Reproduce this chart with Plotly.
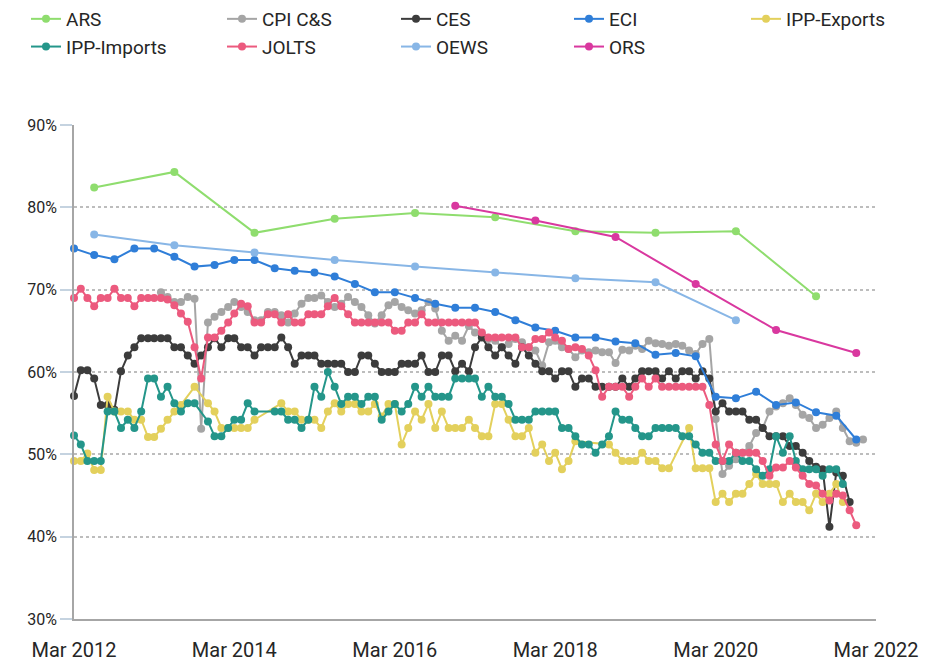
import plotly.graph_objects as go
import pandas as pd

# ---------------- data ----------------
months = [d.strftime("%Y-%m-%d") for d in pd.date_range("2012-03-01", periods=119, freq="MS")]

ars_dates = ["2012-06-01", "2013-06-01", "2014-06-01", "2015-06-01", "2016-06-01",
             "2017-06-01", "2018-06-01", "2019-06-01", "2020-06-01", "2021-06-01"]
ars = [82.4, 84.3, 76.9, 78.6, 79.3, 78.8, 77.1, 76.9, 77.1, 69.2]

oews_dates = ars_dates[:9]
oews = [76.7, 75.4, 74.5, 73.6, 72.8, 72.1, 71.4, 70.9, 66.3]

ors_dates = ["2016-12-01", "2017-12-01", "2018-12-01", "2019-12-01", "2020-12-01", "2021-12-01"]
ors = [80.2, 78.4, 76.4, 70.7, 65.1, 62.3]

eci_dates = months[0:118:3]
eci = [75.0, 74.2, 73.7, 75.0, 75.0, 74.0, 72.8, 73.0, 73.6, 73.6,
       72.6, 72.3, 72.1, 71.6, 70.7, 69.7, 69.7, 69.0, 68.3, 67.8,
       67.8, 67.3, 66.3, 65.4, 65.0, 64.2, 64.2, 63.7, 63.5, 62.1,
       62.3, 61.9, 57.0, 56.8, 57.6, 56.0, 56.3, 55.1, 54.7, 51.8]

N = None
ces = [57.1, 60.2, 60.2, 59.2, 56.0, 56.0, 55.4, 60.1, 62.0, 63.0,
       64.1, 64.1, 64.1, 64.1, 64.1, 63.0, 63.0, 62.0, 61.0, 62.0,
       63.0, 64.1, 63.0, 64.1, 64.1, 63.0, 63.0, 62.0, 63.0, 63.0,
       63.0, 64.2, 63.0, 61.0, 62.0, 62.0, 62.0, 61.0, 61.0, 61.0,
       61.0, 60.0, 60.0, 62.0, 62.0, 61.0, 60.0, 60.0, 60.0, 61.0,
       61.0, 61.0, 62.0, 60.0, 60.0, 62.0, 62.0, 60.1, 61.0, 60.1,
       63.0, 64.2, 63.0, 62.0, 63.0, 62.0, 61.0, 63.0, 62.0, 61.0,
       60.1, 60.1, 59.2, 60.1, 60.1, 58.2, 59.2, 59.2, 58.2, 58.2,
       58.2, 58.2, 59.2, 58.2, 59.2, 60.1, 60.1, 60.1, 59.2, 60.1,
       59.2, 60.1, 60.1, 59.2, 60.1, 59.2, 55.2, 56.2, 55.2, 55.2,
       55.2, 54.2, 54.2, 53.2, 52.2, 52.2, 52.2, 51.0, 51.0, 50.2,
       49.2, 48.5, 48.2, 41.2, 47.8, 47.4, 44.2]

cpi = [N, N, N, N, N, N, N, N, N, N,
       N, N, N, 69.7, 69.1, 68.5, 68.5, 69.1, 68.9, 53.1,
       66.0, 66.7, 67.3, 67.9, 68.5, 67.9, 67.3, 66.3, 66.3, 67.3,
       67.3, 66.9, 66.0, 67.1, 68.3, 69.0, 69.0, 69.3, 68.5, 67.9,
       68.3, 69.1, 68.5, 67.9, 66.9, 65.9, 66.9, 68.1, 68.5, 67.9,
       67.5, 67.1, 67.5, 68.5, 67.7, 65.0, 63.8, 64.4, 63.8, 65.6,
       64.8, 64.6, 64.0, 63.8, 63.0, 63.4, 64.0, 63.6, 63.0, 62.6,
       60.8, 63.6, 63.8, 63.0, 62.8, 61.8, 62.6, 62.4, 62.6, 62.4,
       62.4, 61.1, 62.7, 62.6, 63.2, 62.8, 63.8, 63.5, 63.4, 63.2,
       63.4, 63.2, 62.6, 62.2, 63.4, 64.0, 54.3, 47.6, 48.6, 49.4,
       50.2, 51.0, 52.6, 53.2, 55.2, 55.8, 56.2, 56.8, 56.0, 54.8,
       54.4, 53.2, 53.6, 54.4, 55.2, 53.2, 51.6, 51.4, 51.8]

jolts = [69.0, 70.1, 69.0, 68.0, 69.0, 69.0, 70.1, 69.0, 69.0, 68.0,
         69.0, 69.0, 69.0, 69.0, 68.8, 68.1, 67.1, 66.1, 63.0, 59.2,
         64.2, 64.2, 65.0, 66.0, 67.1, 68.3, 68.0, 66.0, 66.0, 67.0,
         67.0, 66.0, 67.0, 66.0, 66.0, 67.0, 67.0, 67.0, 68.0, 69.0,
         68.0, 67.0, 66.0, 66.0, 66.0, 66.0, 66.0, 66.0, 65.0, 65.0,
         66.0, 66.0, 67.0, 66.0, 66.0, 66.0, 66.0, 66.0, 66.0, 66.0,
         66.0, 64.8, 64.2, 64.2, 64.2, 64.2, 64.2, 63.0, 63.0, 64.0,
         64.0, 64.8, 64.2, 63.8, 62.8, 63.0, 62.8, 62.0, 60.2, 57.0,
         58.2, 58.2, 58.2, 57.0, 58.2, 59.2, 58.2, 59.2, 58.2, 58.2,
         58.2, 58.2, 58.2, 58.2, 58.2, 56.0, 51.2, 49.2, 51.2, 50.2,
         50.2, 50.2, 50.2, 49.2, 47.4, 48.4, 48.4, 49.2, 48.4, 47.4,
         46.4, 46.2, 45.2, 44.4, 45.2, 45.0, 43.2, 41.4]

ipp_imports = [52.3, 51.2, 49.2, 49.2, 49.2, 55.2, 55.2, 53.2, 54.2, 53.2,
               55.2, 59.2, 59.2, 57.0, 58.2, 56.2, 55.2, 56.2, 56.2, N,
               54.0, 52.2, 52.2, 53.2, 54.2, 54.2, 56.2, 55.2, N, N,
               55.2, 55.2, 54.2, 54.2, 53.2, 54.2, 58.2, 57.0, 60.0, 58.2,
               56.1, 57.0, 57.0, 56.1, 57.0, 57.0, 54.2, 55.2, 56.1, 55.2,
               56.1, 58.2, 57.0, 58.2, 57.0, 57.0, 57.0, 59.2, 59.2, 59.2,
               59.2, 57.0, 58.2, 57.0, 57.0, 56.1, 54.2, 54.2, 54.2, 55.2,
               55.2, 55.2, 55.2, 53.2, 53.2, 52.2, 51.2, 51.2, 50.2, 51.2,
               52.2, 55.2, 54.2, 54.2, 53.2, 52.2, 52.2, 53.2, 53.2, 53.2,
               53.2, 52.2, 52.2, 51.2, 50.2, 50.2, 49.2, 49.2, 49.2, 50.2,
               49.2, 49.2, 48.2, 47.4, 48.2, 52.2, 50.2, 52.2, 49.2, 48.2,
               48.2, 48.2, 47.4, 48.2, 48.2, 46.4]

ipp_exports = [49.2, 49.2, 50.1, 48.1, 48.1, 57.0, 55.2, 55.2, 55.2, 54.2,
               54.2, 52.1, 52.1, 53.1, 54.2, 55.2, 56.0, N, 58.2, N,
               56.2, 55.2, 53.2, 53.2, 53.2, 53.2, 53.2, 54.2, N, N,
               N, 56.2, 55.2, 55.2, 54.2, 54.2, 54.2, 53.2, 55.2, 56.2,
               55.2, 56.1, 56.1, 55.2, 55.2, 56.1, 54.6, 56.1, 56.1, 51.2,
               53.2, 55.2, 54.2, 56.1, 53.2, 55.2, 53.2, 53.2, 53.2, 54.2,
               53.2, 52.2, 52.2, 56.1, 56.1, 54.2, 52.2, 52.2, 53.2, 50.2,
               51.2, 49.2, 50.2, 48.2, 49.2, 51.6, N, N, N, N,
               51.2, 50.2, 49.2, 49.2, 49.2, 50.2, 49.2, 49.2, 48.3, 48.3,
               N, N, 53.2, 48.3, 48.3, 48.3, 44.2, 45.2, 44.2, 45.2,
               45.2, 46.4, 47.6, 46.4, 46.4, 46.4, 44.2, 45.2, 44.2, 44.2,
               43.2, 45.2, 44.2, 45.2, 46.4, 44.2]

y_ticks = [30, 40, 50, 60, 70, 80, 90]
y_tick_text = ["30%", "40%", "50%", "60%", "70%", "80%", "90%"]
x_ticks = ["2012-03-01", "2014-03-01", "2016-03-01", "2018-03-01", "2020-03-01", "2022-03-01"]
x_tick_text = ["Mar 2012", "Mar 2014", "Mar 2016", "Mar 2018", "Mar 2020", "Mar 2022"]

# ---------------- figure ----------------
FONT = "Roboto, Liberation Sans, sans-serif"


def pts(dates, vals):
    xs = [d for d, v in zip(dates, vals) if v is not None]
    ys = [v for v in vals if v is not None]
    return xs, ys


series = [
    ("ARS", ars_dates, ars, "#8FDD6E", "legend"),
    ("CPI C&S", months, cpi, "#A5A5A5", "legend2"),
    ("CES", months, ces, "#3C3C3C", "legend3"),
    ("ECI", eci_dates, eci, "#2F7ED8", "legend4"),
    ("IPP-Exports", months, ipp_exports, "#E3D05C", "legend5"),
    ("IPP-Imports", months, ipp_imports, "#24968A", "legend"),
    ("JOLTS", months, jolts, "#EC5A7E", "legend2"),
    ("OEWS", oews_dates, oews, "#88B6E6", "legend3"),
    ("ORS", ors_dates, ors, "#D9389F", "legend4"),
]

fig = go.Figure()
for name, d, v, col, lg in series:
    xs, ys = pts(d, v)
    fig.add_trace(go.Scatter(
        x=xs, y=ys, name=name, mode="lines+markers",
        line=dict(color=col, width=2),
        marker=dict(color=col, size=8),
        cliponaxis=False, legend=lg,
    ))

plot_l, plot_w = 74, 802
legend_common = dict(
    orientation="v", yanchor="top", xanchor="left",
    yref="container", y=1.023,
    font=dict(family=FONT, size=19, color="#262626"),
    bgcolor="rgba(0,0,0,0)", itemwidth=30, tracegroupgap=0,
)
col_text_x = [67, 263, 437, 610, 787]
legend_names = ["legend", "legend2", "legend3", "legend4", "legend5"]
legend_layout = {}
for nm, tx in zip(legend_names, col_text_x):
    legend_layout[nm] = dict(legend_common, x=(tx - 41 - plot_l) / plot_w)

fig.update_layout(
    width=942, height=662, autosize=False,
    margin=dict(l=plot_l, r=942 - plot_l - plot_w, t=125, b=43),
    paper_bgcolor="white", plot_bgcolor="white",
    font=dict(family=FONT, color="#262626"),
    showlegend=True,
    **legend_layout,
)

fig.update_xaxes(
    type="date", range=["2012-03-01", "2022-03-01"],
    tickvals=x_ticks, ticktext=x_tick_text,
    showgrid=False, zeroline=False, automargin=False,
    showline=True, linecolor="#A6A6A6", linewidth=2,
    ticks="", tickfont=dict(family=FONT, size=20, color="#262626"),
    ticklabelstandoff=12,
)
fig.update_yaxes(
    range=[30, 90], tickvals=y_ticks, ticktext=y_tick_text,
    showgrid=True, gridcolor="#BDBDBD", griddash="dot", gridwidth=1.5,
    zeroline=False, showline=True, linecolor="#A6A6A6", linewidth=1.5,
    automargin=False,
    ticks="outside", ticklen=12, tickcolor="#C5D3E0", tickwidth=1.5,
    tickfont=dict(family=FONT, size=16, color="#262626"),
)

fig.write_html("out.html", config={"displayModeBar": False},
               post_script="document.body.style.margin='0px';")
